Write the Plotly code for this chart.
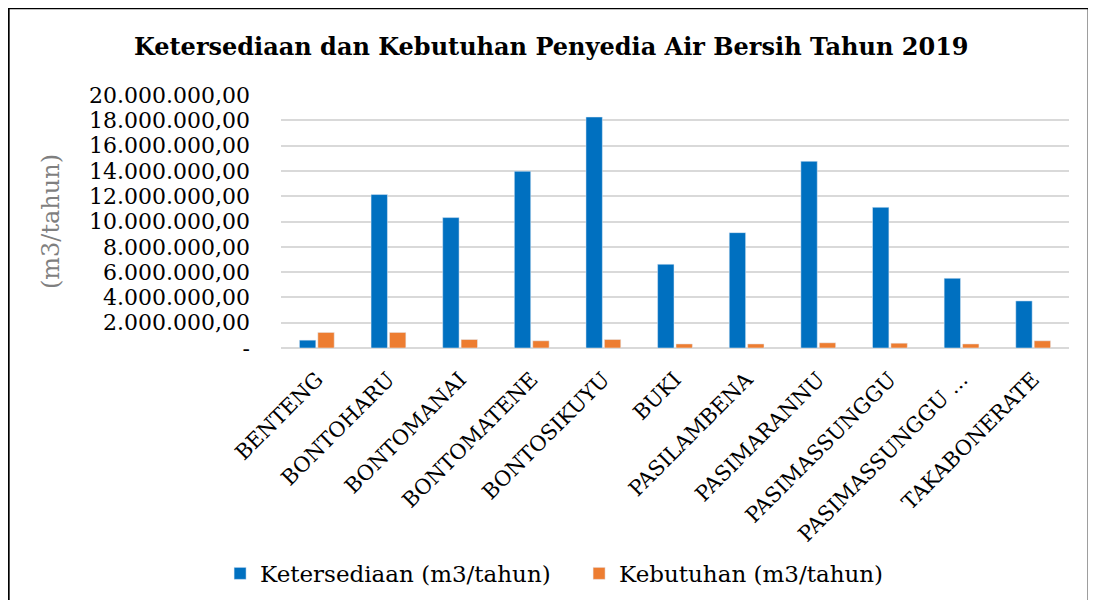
import plotly.graph_objects as go

kecamatan = [
    "BENTENG", "BONTOHARU", "BONTOMANAI", "BONTOMATENE", "BONTOSIKUYU",
    "BUKI", "PASILAMBENA", "PASIMARANNU", "PASIMASSUNGGU",
    "PASIMASSUNGGU ...", "TAKABONERATE",
]
ketersediaan = [
    620000, 12130000, 10310000, 13970000, 18260000,
    6620000, 9120000, 14760000, 11120000, 5510000, 3720000,
]
kebutuhan = [
    1230000, 1230000, 670000, 570000, 670000,
    320000, 320000, 410000, 380000, 320000, 570000,
]
y_ticks = [0, 2e6, 4e6, 6e6, 8e6, 10e6, 12e6, 14e6, 16e6, 18e6, 20e6]
y_labels = [
    "-", "2.000.000,00", "4.000.000,00", "6.000.000,00", "8.000.000,00",
    "10.000.000,00", "12.000.000,00", "14.000.000,00", "16.000.000,00",
    "18.000.000,00", "20.000.000,00",
]

FONT = "DejaVu Serif"

fig = go.Figure()
fig.add_trace(go.Bar(x=kecamatan, y=ketersediaan, name="Ketersediaan (m3/tahun)",
                     marker=dict(color="#0070C0")))
fig.add_trace(go.Bar(x=kecamatan, y=kebutuhan, name="Kebutuhan (m3/tahun)",
                     marker=dict(color="#ED7D31")))

# page body has an 8px margin, so the figure is 16px smaller than the window
fig.update_layout(
    width=1080,
    height=592,
    barmode="group",
    bargap=0.486,
    bargroupgap=0.11,
    font=dict(family=FONT, size=22, color="black"),
    title=dict(
        text="<b>Ketersediaan dan Kebutuhan Penyedia Air Bersih Tahun 2019</b>",
        x=0.503, xanchor="center", y=0.934, yanchor="middle",
        font=dict(family=FONT, size=24, color="black"),
    ),
    xaxis=dict(
        tickangle=-45,
        showgrid=False,
        tickfont=dict(size=21),
        ticks="",
        ticklabelstandoff=14,
        automargin=False,
    ),
    yaxis=dict(
        range=[0, 20e6],
        tickvals=y_ticks,
        ticktext=y_labels,
        showgrid=True,
        gridcolor="#d9d9d9",
        gridwidth=2,
        zeroline=True,
        zerolinecolor="#d9d9d9",
        zerolinewidth=2,
        ticklabelstandoff=30,
        tickfont=dict(size=22),
        automargin=False,
        title=dict(text="(m3/tahun)", font=dict(size=24, color="#7f7f7f"), standoff=22),
    ),
    legend=dict(
        orientation="h",
        x=-0.0773, xanchor="left",
        y=-0.891, yanchor="middle",
        font=dict(size=23),
        itemwidth=30,
        entrywidth=314,
    ),
    shapes=[dict(
        type="rect", xref="paper", yref="paper",
        x0=-0.3456, x1=1.0249, y0=-1.08, y1=1.3427,
        line=dict(color="black", width=2),
    )],
    plot_bgcolor="white",
    paper_bgcolor="white",
    margin=dict(l=273, r=19, t=87, b=252, autoexpand=False),
)

fig.write_html("out.html")
